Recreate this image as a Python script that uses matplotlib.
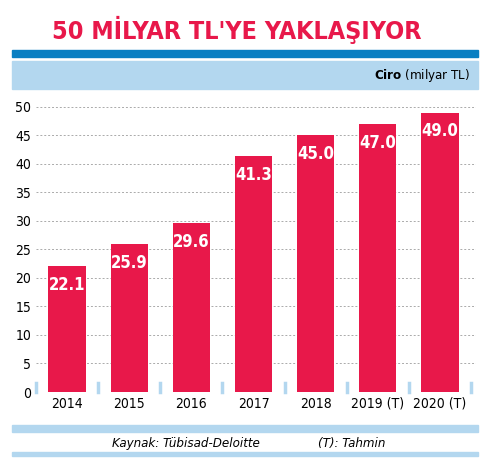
import numpy as np
import matplotlib.pyplot as plt
from matplotlib.patches import Rectangle

years = ['2014', '2015', '2016', '2017', '2018', '2019 (T)', '2020 (T)']
ciro = [22.1, 25.9, 29.6, 41.3, 45.0, 47.0, 49.0]
yticks = [0, 5, 10, 15, 20, 25, 30, 35, 40, 45, 50]

W, H = 486, 463
red = '#e8184a'
blue = '#0a7fc2'
light = '#b3d7ef'
plt.rcParams['font.stretch'] = 'condensed'

fig = plt.figure(figsize=(W / 100, H / 100), dpi=100)

def fx(px):
    return px / W

def fy(py):
    return 1 - py / H

# header
fig.text(fx(52), fy(30), "50 MİLYAR TL'YE YAKLAŞIYOR", color=red, fontsize=18,
         fontweight='bold', va='center', ha='left')
fig.patches.append(Rectangle((fx(12), fy(57)), fx(466), 7 / H, color=blue, transform=fig.transFigure))
fig.patches.append(Rectangle((fx(12), fy(89)), fx(466), 28 / H, color=light, transform=fig.transFigure))
fig.text(fx(470), fy(75), r'$\mathbf{Ciro}$ (milyar TL)', fontsize=9.5, ha='right', va='center')

# footer
fig.patches.append(Rectangle((fx(12), fy(432)), fx(466), 7 / H, color=light, transform=fig.transFigure))
fig.patches.append(Rectangle((fx(12), fy(456)), fx(466), 4 / H, color=light, transform=fig.transFigure))
fig.text(fx(112), fy(443), 'Kaynak: Tübisad-Deloitte', fontsize=9.5, style='italic', va='center')
fig.text(fx(318), fy(443), '(T): Tahmin', fontsize=9.5, style='italic', va='center')

ax = fig.add_axes([fx(36), fy(392), fx(440), 292 / H])
x = np.arange(len(years))
ax.bar(x, ciro, width=0.6, color=red, zorder=3)
for xi, v in zip(x, ciro):
    ax.text(xi, v - 3.3, f'{v:.1f}', color='white', fontsize=12, fontweight='bold',
            ha='center', va='center', zorder=4)
ax.set_xlim(-0.5, 6.58)
ax.set_ylim(0, 51.2)
ax.set_yticks(yticks)
ax.set_xticks(x)
ax.set_xticklabels(years)
ax.tick_params(length=0, labelsize=10)
ax.grid(axis='y', color='#aaaaaa', linestyle=(0, (2, 2)), linewidth=0.7, zorder=0)
for s in ax.spines.values():
    s.set_visible(False)
for b in np.arange(-0.5, 7, 1):
    ax.plot([b, b], [0, 1.6], color=light, linewidth=2.5, zorder=2, clip_on=False)

fig.savefig('out.png', dpi=100)
